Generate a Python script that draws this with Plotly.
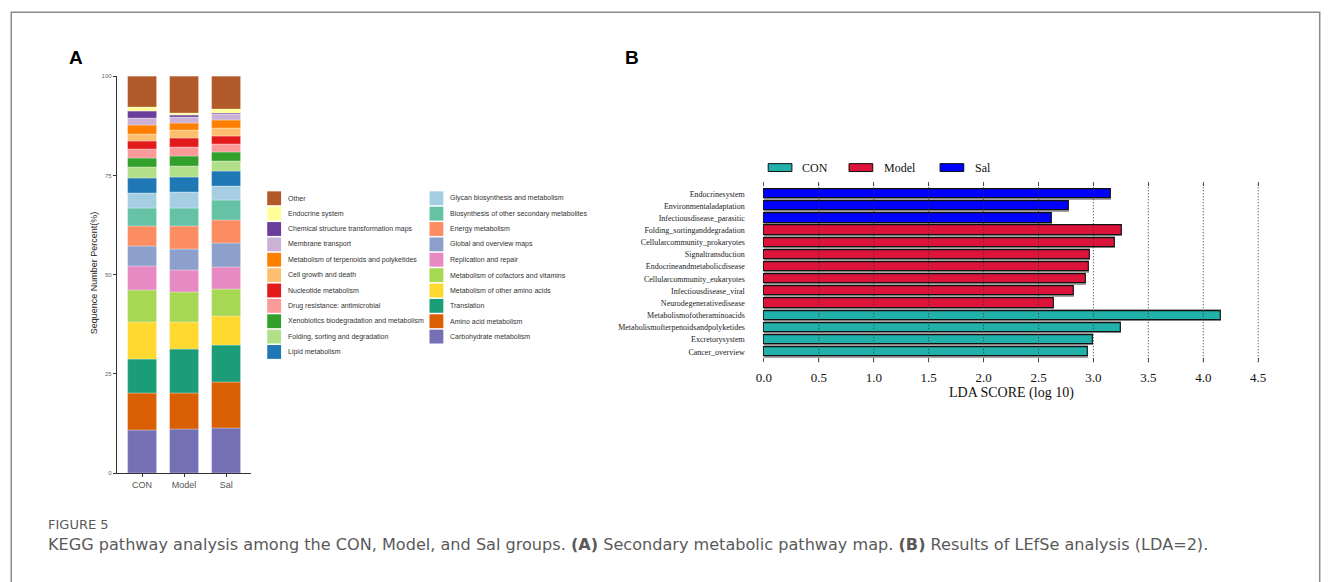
import plotly.graph_objects as go

W, H = 1328, 582

# ---------------- Data: panel A (stacked KEGG level-2 composition, %) ----------------
groups = ["CON", "Model", "Sal"]
pathways = [
    "Carbohydrate metabolism", "Amino acid metabolism", "Translation",
    "Metabolism of other amino acids", "Metabolism of cofactors and vitamins",
    "Replication and repair", "Global and overview maps", "Energy metabolism",
    "Biosynthesis of other secondary metabolites", "Glycan biosynthesis and metabolism",
    "Lipid metabolism", "Folding, sorting and degradation",
    "Xenobiotics biodegradation and metabolism", "Drug resistance: antimicrobial",
    "Nucleotide metabolism", "Cell growth and death",
    "Metabolism of terpenoids and polyketides", "Membrane transport",
    "Chemical structure transformation maps", "Endocrine system", "Other",
]
con_pct = [10.8, 9.3, 8.6, 9.4, 8.0, 6.0, 5.1, 5.0, 4.5, 3.8, 3.9, 2.7, 2.3, 2.1, 2.0, 2.0, 2.1, 1.8, 1.8, 1.0, 7.8]
model_pct = [11.0, 9.0, 11.3, 6.7, 7.7, 5.3, 5.5, 5.7, 4.6, 4.0, 3.8, 2.6, 2.6, 2.2, 2.3, 2.0, 1.8, 1.5, 0.5, 0.7, 9.2]
sal_pct = [11.4, 11.6, 9.3, 7.2, 6.9, 5.4, 6.1, 5.7, 5.1, 3.5, 3.9, 2.5, 2.3, 2.0, 2.1, 1.9, 1.9, 1.7, 0.1, 1.1, 8.3]
pct_ticks = [0, 25, 50, 75, 100]

# ---------------- Data: panel B (LEfSe LDA scores) ----------------
lda_features = [
    "Endocrinesystem", "Environmentaladaptation", "Infectiousdisease_parasitic",
    "Folding_sortinganddegradation", "Cellularcommunity_prokaryotes", "Signaltransduction",
    "Endocrineandmetabolicdisease", "Cellularcommunity_eukaryotes", "Infectiousdisease_viral",
    "Neurodegenerativedisease", "Metabolismofotheraminoacids",
    "Metabolismofterpenoidsandpolyketides", "Excretorysystem", "Cancer_overview",
]
lda_scores = [3.16, 2.78, 2.62, 3.26, 3.195, 2.966, 2.956, 2.928, 2.823, 2.643, 4.156, 3.254, 2.997, 2.953]
lda_groups = ["Sal"] * 3 + ["Model"] * 7 + ["CON"] * 4
lda_group_order = ["CON", "Model", "Sal"]
lda_ticks = [0.0, 0.5, 1.0, 1.5, 2.0, 2.5, 3.0, 3.5, 4.0, 4.5]

# ---------------- Styles ----------------
pathway_colors = [
    "#7570b3", "#d95f02", "#1b9e77", "#ffd92f", "#a6d854", "#e78ac3", "#8da0cb",
    "#fc8d62", "#66c2a5", "#a6cee3", "#1f78b4", "#b2df8a", "#33a02c", "#fb9a99",
    "#e31a1c", "#fdbf6f", "#ff7f00", "#cab2d6", "#6a3d9a", "#ffff99", "#b15928",
]
group_colors = {"CON": "#20b2aa", "Model": "#dc143c", "Sal": "#0000ff"}
SANS = "Liberation Sans, Arial, sans-serif"
SERIF = "Liberation Serif, Times New Roman, serif"
CAP = "DejaVu Sans, Verdana, sans-serif"


def fx(p):
    return p / W


def fy(p):
    return 1 - p / H


fig = go.Figure()

# ---- Panel A: stacked bars (explicit running base, overlay mode) ----
series = [con_pct, model_pct, sal_pct]
running = [0.0, 0.0, 0.0]
for i, name in enumerate(pathways):
    vals = [s[i] for s in series]
    fig.add_trace(go.Bar(
        x=groups, y=vals, base=list(running), name=name,
        marker=dict(color=pathway_colors[i], line=dict(color="rgba(255,255,255,0.6)", width=0.5)),
        width=0.7, showlegend=False, xaxis="x", yaxis="y",
    ))
    running = [r + v for r, v in zip(running, vals)]

# ---- Panel B: horizontal LDA bars ----
n = len(lda_features)
ypos = [n - 1 - i for i in range(n)]
fig.add_trace(go.Bar(
    x=lda_scores, y=ypos, orientation="h", width=1.0,
    marker=dict(color="#a6a6a6", line=dict(width=0)),
    showlegend=False, xaxis="x2", yaxis="y2", hoverinfo="skip",
))
for g in lda_group_order:
    idx = [i for i, gg in enumerate(lda_groups) if gg == g]
    fig.add_trace(go.Bar(
        x=[lda_scores[i] for i in idx], y=[ypos[i] for i in idx], orientation="h",
        width=0.76, name=g,
        marker=dict(color=group_colors[g], line=dict(color="#111111", width=1.1)),
        showlegend=False, xaxis="x2", yaxis="y2",
    ))

shapes = []
annotations = []

# Dotted grid drawn above bars (matplotlib style)
for t in lda_ticks[1:]:
    shapes.append(dict(type="line", xref="x2", yref="y2 domain", x0=t, x1=t, y0=0, y1=1,
                       line=dict(color="#333333", width=1, dash="1px,2px"), layer="above"))

# Panel A legend, two columns
legend_order = pathways[::-1]
legend_cols = [legend_order[:11], legend_order[11:]]
col_x = [263, 427]
row0, pitch = 197.3, 15.53
for c, items in enumerate(legend_cols):
    for r, name in enumerate(items):
        yc = row0 + r * pitch
        col = pathway_colors[pathways.index(name)]
        shapes.append(dict(type="rect", xref="paper", yref="paper",
                           x0=fx(col_x[c]), x1=fx(col_x[c] + 14), y0=fy(yc + 7), y1=fy(yc - 7),
                           fillcolor=col, line=dict(width=0)))
        annotations.append(dict(text=name, xref="paper", yref="paper", x=fx(col_x[c] + 19), y=fy(yc),
                                xanchor="left", yanchor="middle", showarrow=False,
                                font=dict(family=SANS, size=7, color="#333333")))

# Panel B legend
leg_sw_x = [769.3, 851, 943]
leg_tx_x = [801.7, 884, 976]
for k, g in enumerate(lda_group_order):
    shapes.append(dict(type="rect", xref="paper", yref="paper",
                       x0=fx(leg_sw_x[k]), x1=fx(leg_sw_x[k] + 24), y0=fy(170.3), y1=fy(162.3),
                       fillcolor=group_colors[g], line=dict(color="#111111", width=1)))
    annotations.append(dict(text=g, xref="paper", yref="paper", x=fx(leg_tx_x[k]), y=fy(166.3),
                            xanchor="left", yanchor="middle", showarrow=False,
                            font=dict(family=SERIF, size=12, color="#111111")))

# Titles / labels
annotations += [
    dict(text="<b>A</b>", xref="paper", yref="paper", x=fx(69.5), y=fy(55), showarrow=False,
         xanchor="center", yanchor="middle", font=dict(family=SANS, size=19, color="#000000")),
    dict(text="<b>B</b>", xref="paper", yref="paper", x=fx(632), y=fy(55), showarrow=False,
         xanchor="center", yanchor="middle", font=dict(family=SANS, size=19, color="#000000")),
    dict(text="Sequence Number Percent(%)", xref="paper", yref="paper", x=fx(88), y=fy(273),
         textangle=-90, showarrow=False, xanchor="center", yanchor="middle",
         font=dict(family=SANS, size=9, color="#222222")),
    dict(text="LDA SCORE (log 10)", xref="paper", yref="paper", x=fx(1015), y=fy(394),
         showarrow=False, xanchor="center", yanchor="middle",
         font=dict(family=SERIF, size=14, color="#111111")),
    dict(text="FIGURE 5", xref="paper", yref="paper", x=fx(39.5), y=fy(527),
         showarrow=False, xanchor="left", yanchor="middle",
         font=dict(family=CAP, size=13, color="#5a5a5a")),
    dict(text="KEGG pathway analysis among the CON, Model, and Sal groups. <b>(A)</b> Secondary metabolic "
              "pathway map. <b>(B)</b> Results of LEfSe analysis (LDA=2).",
         xref="paper", yref="paper", x=fx(39.5), y=fy(547), showarrow=False,
         xanchor="left", yanchor="middle", font=dict(family=CAP, size=16.1, color="#5a5a5a")),
]

# Frame around the figure (open at the bottom edge of the crop)
shapes.append(dict(type="rect", xref="paper", yref="paper", x0=fx(4.3), x1=fx(1326.7),
                   y0=-0.2, y1=fy(9.3), line=dict(color="#8a8a8a", width=1.5), layer="below"))

fig.update_layout(
    width=W, height=H, margin=dict(l=0, r=0, t=0, b=0),
    paper_bgcolor="white", plot_bgcolor="rgba(0,0,0,0)",
    barmode="overlay", bargap=0, showlegend=False,
    shapes=shapes, annotations=annotations,
    xaxis=dict(domain=[fx(111), fx(247)], range=[-0.6, 2.6], type="category",
               categoryorder="array", categoryarray=groups, anchor="y",
               showline=True, linecolor="#333333", linewidth=1, ticks="outside", ticklen=3,
               tickcolor="#333333", tickfont=dict(family=SANS, size=9, color="#555555"),
               showgrid=False, zeroline=False),
    yaxis=dict(domain=[fy(475), fy(74)], range=[0, 100], tickvals=pct_ticks, anchor="x",
               showline=True, linecolor="#333333", linewidth=1, ticks="outside", ticklen=3,
               tickcolor="#333333", tickfont=dict(family=SANS, size=6, color="#666666"),
               showgrid=False, zeroline=False),
    xaxis2=dict(domain=[fx(765 - 0.01 * 111), fx(765 + 4.51 * 111)], range=[-0.01, 4.51],
                anchor="y2", tickvals=lda_ticks, ticktext=[f"{t:.1f}" for t in lda_ticks],
                ticks="inside", ticklen=4, tickcolor="#555555", tickwidth=1,
                showline=True, linecolor="rgba(0,0,0,0)", mirror="ticks",
                tickfont=dict(family=SERIF, size=13, color="#111111"), ticklabelstandoff=3,
                showgrid=False, zeroline=False),
    yaxis2=dict(domain=[fy(363), fy(181)], range=[-0.87, 13.96], anchor="x2",
                tickvals=ypos, ticktext=lda_features, ticks="", ticklabelstandoff=17,
                tickfont=dict(family=SERIF, size=8, color="#222222"),
                showline=False, showgrid=False, zeroline=False),
)

fig.write_html("out.html")
